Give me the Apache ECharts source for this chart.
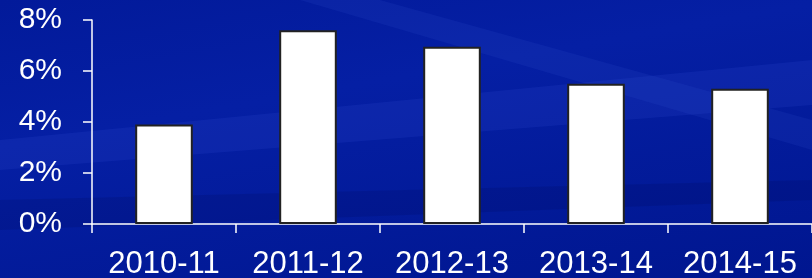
<!DOCTYPE html>
<html>
<head>
<meta charset="utf-8">
<script src="https://cdn.jsdelivr.net/npm/echarts@6/dist/echarts.min.js"></script>
<style>
  html, body { margin: 0; padding: 0; }
  body {
    width: 812px; height: 278px; overflow: hidden;
    background: linear-gradient(170deg, #021a9a 0%, #051fa4 35%, #00168f 100%);
  }
  #chart { width: 812px; height: 278px; }
</style>
</head>
<body>
<div id="chart"></div>
<script>
// 年度
var years = ["2010-11", "2011-12", "2012-13", "2013-14", "2014-15"];
// 百分比数值
var rates = [3.9, 7.6, 6.95, 5.5, 5.3];
var yTicks = [0, 2, 4, 6, 8];

var myChart = echarts.init(document.getElementById("chart"));
myChart.setOption({
  backgroundColor: "transparent",
  animation: false,
  // 背景上的浅色斜条纹
  graphic: [
    { type: "polygon", silent: true, z: -10,
      shape: { points: [[0, 140], [812, 60], [812, 105], [0, 170]] },
      style: { fill: "rgba(60,90,220,0.15)" } },
    { type: "polygon", silent: true, z: -10,
      shape: { points: [[380, 0], [812, 120], [812, 150], [300, 0]] },
      style: { fill: "rgba(60,90,220,0.13)" } },
    { type: "polygon", silent: true, z: -10,
      shape: { points: [[0, 200], [812, 180], [812, 200], [0, 230]] },
      style: { fill: "rgba(0,0,60,0.12)" } }
  ],
  grid: { left: 92, right: 0, top: 20, bottom: 54, containLabel: false, outerBoundsMode: "none" },
  xAxis: {
    type: "category",
    data: years,
    axisLine: { lineStyle: { color: "#ffffff", width: 1.5 } },
    axisTick: { show: true, interval: 0, length: 9, lineStyle: { color: "#ffffff", width: 1.5 } },
    axisLabel: {
      color: "#ffffff", fontSize: 31, margin: 25, interval: 0, hideOverlap: false,
      fontFamily: "Liberation Sans, Arial, sans-serif"
    }
  },
  yAxis: {
    type: "value",
    min: yTicks[0],
    max: yTicks[yTicks.length - 1],
    interval: 2,
    splitLine: { show: false },
    axisLine: { show: true, lineStyle: { color: "#ffffff", width: 1.5 } },
    axisTick: { show: true, length: 9, lineStyle: { color: "#ffffff", width: 1.5 } },
    axisLabel: {
      color: "#ffffff", fontSize: 30, margin: 30,
      fontFamily: "Liberation Sans, Arial, sans-serif",
      formatter: "{value}%"
    }
  },
  series: [
    {
      type: "bar",
      data: rates,
      barWidth: "40%",
      itemStyle: { color: "#ffffff", borderColor: "#222222", borderWidth: 2 }
    }
  ]
});
</script>
</body>
</html>
